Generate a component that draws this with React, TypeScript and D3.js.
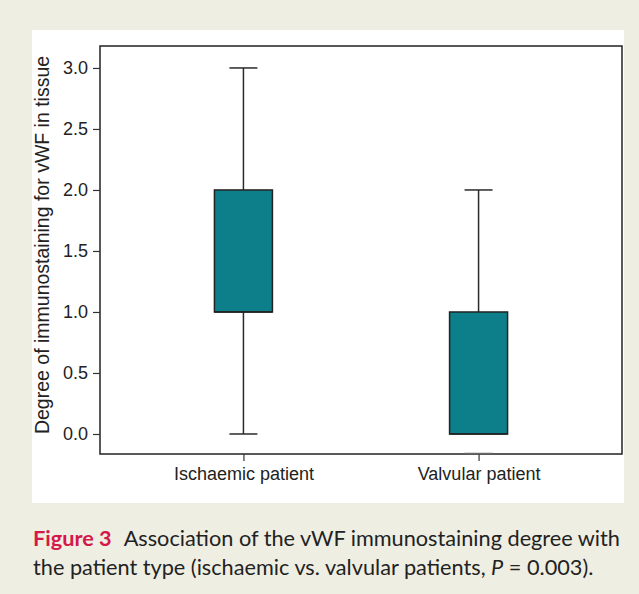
import { useEffect, useRef } from 'react';
import * as d3 from 'd3';

const groups = ['Ischaemic patient', 'Valvular patient'];
const whiskerLow = [0, 0];
const q1 = [1, 0];
const median = [1, 0];
const q3 = [2, 1];
const whiskerHigh = [3, 2];
// lower cap of the valvular group sits on the axis floor in the original
const lowCap = [0, -0.16];
const yTicks = [0, 0.5, 1, 1.5, 2, 2.5, 3];

const App = () => {
  const svgRef = useRef<SVGSVGElement>(null);

  useEffect(() => {
    if (!svgRef.current) return;
    const svg = d3.select(svgRef.current);
    svg.selectAll('*').remove();

    const width = 639;
    const height = 594;
    const margin = { top: 46, right: 17, bottom: 140, left: 100 };

    svg.attr('width', width).attr('height', height);

    // page background + white panel
    svg.append('rect').attr('width', width).attr('height', height).attr('fill', '#efeee3');
    svg.append('rect')
      .attr('x', 32).attr('y', 30)
      .attr('width', 592).attr('height', 473)
      .attr('fill', '#ffffff');

    const x = d3.scalePoint()
      .domain(groups)
      .range([margin.left, width - margin.right])
      .padding(0.61);

    const y = d3.scaleLinear()
      .domain([-0.164, 3.18])
      .range([height - margin.bottom, margin.top]);

    const font = '"Liberation Sans", Arial, sans-serif';

    // frame
    svg.append('rect')
      .attr('x', margin.left)
      .attr('y', margin.top)
      .attr('width', width - margin.right - margin.left)
      .attr('height', height - margin.bottom - margin.top)
      .attr('fill', 'none')
      .attr('stroke', '#222')
      .attr('stroke-width', 1.5);

    // y axis
    const yAxis = svg.append('g')
      .attr('transform', `translate(${margin.left},0)`)
      .call(d3.axisLeft(y).tickValues(yTicks).tickFormat(d3.format('.1f')).tickSize(7).tickPadding(5));
    yAxis.select('.domain').remove();
    yAxis.selectAll('line').attr('stroke', '#333').attr('stroke-width', 1.2);
    yAxis.selectAll('text')
      .attr('font-family', font)
      .attr('font-size', 18)
      .attr('fill', '#222');

    // x axis
    const xAxis = svg.append('g')
      .attr('transform', `translate(0,${height - margin.bottom})`)
      .call(d3.axisBottom(x).tickSize(7).tickPadding(6));
    xAxis.select('.domain').remove();
    xAxis.selectAll('line').attr('stroke', '#333').attr('stroke-width', 1.2);
    xAxis.selectAll('text')
      .attr('font-family', font)
      .attr('font-size', 18)
      .attr('fill', '#222');

    // y label
    svg.append('text')
      .attr('transform', `translate(49,${(y(0) + y(3)) / 2 - 6}) rotate(-90)`)
      .attr('text-anchor', 'middle')
      .attr('font-family', font)
      .attr('font-size', 19.5)
      .attr('fill', '#222')
      .text('Degree of immunostaining for vWF in tissue');

    const boxW = 58;
    const capW = 28;

    groups.forEach((g, i) => {
      const cx = x(g) || 0;
      const lineCol = '#2a2a2a';

      // whiskers
      if (whiskerHigh[i] > q3[i]) {
        svg.append('line')
          .attr('x1', cx).attr('x2', cx)
          .attr('y1', y(q3[i])).attr('y2', y(whiskerHigh[i]))
          .attr('stroke', lineCol).attr('stroke-width', 1.5);
      }
      if (whiskerLow[i] < q1[i]) {
        svg.append('line')
          .attr('x1', cx).attr('x2', cx)
          .attr('y1', y(q1[i])).attr('y2', y(whiskerLow[i]))
          .attr('stroke', lineCol).attr('stroke-width', 1.5);
      }
      svg.append('line')
        .attr('x1', cx - capW / 2).attr('x2', cx + capW / 2)
        .attr('y1', y(whiskerHigh[i])).attr('y2', y(whiskerHigh[i]))
        .attr('stroke', lineCol).attr('stroke-width', 1.5);
      svg.append('line')
        .attr('x1', cx - capW / 2).attr('x2', cx + capW / 2)
        .attr('y1', y(lowCap[i])).attr('y2', y(lowCap[i]))
        .attr('stroke', i === 1 ? '#666' : lineCol).attr('stroke-width', 1.5);

      // box
      svg.append('rect')
        .attr('x', cx - boxW / 2)
        .attr('y', y(q3[i]))
        .attr('width', boxW)
        .attr('height', y(q1[i]) - y(q3[i]))
        .attr('fill', '#0c7f8b')
        .attr('stroke', '#222')
        .attr('stroke-width', 1.5);

      // median
      svg.append('line')
        .attr('x1', cx - boxW / 2).attr('x2', cx + boxW / 2)
        .attr('y1', y(median[i])).attr('y2', y(median[i]))
        .attr('stroke', '#222').attr('stroke-width', 1.5);
    });

    // caption
    const cap = svg.append('g')
      .attr('font-family', 'Lato, "Open Sans", sans-serif')
      .attr('font-size', 21.7)
      .attr('fill', '#222');
    const l1 = cap.append('text').attr('x', 33).attr('y', 546);
    l1.append('tspan').attr('font-weight', 'bold').attr('fill', '#d4194a').text('Figure 3');
    l1.append('tspan').attr('dx', 12).text('Association of the vWF immunostaining degree with');
    const l2 = cap.append('text').attr('x', 33).attr('y', 575);
    l2.append('tspan').text('the patient type (ischaemic vs. valvular patients, ');
    l2.append('tspan').attr('font-style', 'italic').text('P');
    l2.append('tspan').text(' = 0.003).');
  }, []);

  return (
    <div style={{ position: 'absolute', left: 0, top: 0 }}>
      <svg ref={svgRef} />
    </div>
  );
};

export default App;
